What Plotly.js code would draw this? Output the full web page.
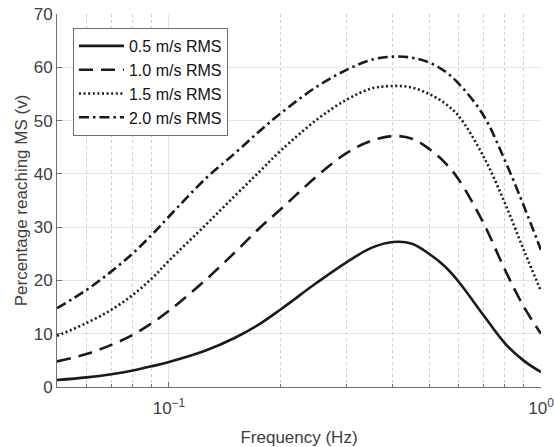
<!DOCTYPE html>
<html>
<head>
<meta charset="utf-8">
<script src="https://cdn.plot.ly/plotly-3.0.1.min.js"></script>
<style>
  html, body { margin: 0; padding: 0; background: #fff; }
  #chart { width: 554px; height: 447px; }
</style>
</head>
<body>
<div id="chart"></div>
<script>
const freq = [0.05, 0.06, 0.07, 0.08, 0.09, 0.1, 0.125, 0.15, 0.175, 0.2, 0.25, 0.3, 0.35, 0.4, 0.45, 0.5, 0.55, 0.6, 0.7, 0.8, 0.9, 1.0];
const msi05 = [1.3, 1.8, 2.4, 3.1, 3.9, 4.7, 6.8, 9.2, 11.8, 14.6, 19.6, 23.4, 26.1, 27.2, 26.9, 25.0, 22.7, 19.8, 13.5, 8.2, 4.9, 2.8];
const msi10 = [4.8, 6.2, 7.9, 9.8, 12.0, 14.3, 20.0, 25.2, 29.8, 33.4, 39.6, 43.9, 46.2, 47.1, 46.6, 44.7, 42.2, 39.0, 30.8, 22.0, 15.0, 10.0];
const msi15 = [9.6, 12.0, 14.5, 17.3, 20.4, 23.7, 30.3, 35.8, 40.4, 44.4, 50.2, 53.9, 56.0, 56.5, 56.2, 55.0, 53.3, 50.9, 43.3, 34.5, 25.6, 18.0];
const msi20 = [14.8, 18.2, 21.7, 25.1, 28.6, 32.0, 39.0, 43.8, 48.0, 51.4, 56.4, 59.5, 61.4, 62.0, 61.8, 60.9, 59.3, 57.0, 51.0, 42.5, 33.9, 25.7];
const seriesNames = ['0.5 m/s RMS', '1.0 m/s RMS', '1.5 m/s RMS', '2.0 m/s RMS'];
const xTickVals = [0.1, 1];
const xTickText = ['10<sup>\u22121</sup>', '10<sup>0</sup>'];
const xMinorVals = [0.06, 0.07, 0.08, 0.09, 0.2, 0.3, 0.4, 0.5, 0.6, 0.7, 0.8, 0.9];
const yTickVals = [0, 10, 20, 30, 40, 50, 60, 70];

const seriesData = [msi05, msi10, msi15, msi20];
const dashes = ['solid', '14px,8px', '2px,2.6px', '10px,4px,2.5px,4px'];

const traces = seriesData.map((ys, i) => ({
  x: freq,
  y: ys,
  type: 'scatter',
  mode: 'lines',
  name: seriesNames[i],
  line: { color: '#1a1a1a', width: 2.6, dash: dashes[i], shape: 'spline', smoothing: 1 }
}));

const fontFam = 'Liberation Sans, Arial, Helvetica, sans-serif';

const layout = {
  width: 554,
  height: 447,
  margin: { l: 57, r: 13, t: 14, b: 60 },
  paper_bgcolor: '#ffffff',
  plot_bgcolor: '#ffffff',
  font: { family: fontFam, size: 17, color: '#404040' },
  showlegend: true,
  legend: {
    x: 0.033, y: 0.9625, xanchor: 'left', yanchor: 'top',
    bgcolor: '#ffffff', bordercolor: '#6e6e6e', borderwidth: 1,
    font: { family: fontFam, size: 16, color: '#111111' },
    itemwidth: 45,
    tracegroupgap: 0
  },
  xaxis: {
    type: 'log',
    range: [Math.log10(0.05), 0],
    tickvals: xTickVals,
    ticktext: xTickText,
    ticks: 'inside',
    ticklen: 5,
    tickcolor: '#6e6e6e',
    ticklabelstandoff: 6,
    ticklabeloverflow: 'allow',
    showline: true,
    linecolor: '#6e6e6e',
    linewidth: 1,
    mirror: false,
    showgrid: true,
    gridcolor: '#e3e3e3',
    gridwidth: 1,
    zeroline: false,
    minor: {
      tickvals: xMinorVals,
      ticks: 'inside', ticklen: 3, tickcolor: '#6e6e6e',
      showgrid: true, gridcolor: '#cfcfcf', griddash: 'dot', gridwidth: 1
    },
    tickfont: { family: fontFam, size: 17, color: '#404040' },
    title: { text: 'Frequency (Hz)', font: { family: fontFam, size: 17, color: '#404040' }, standoff: 14 },
    automargin: false
  },
  yaxis: {
    range: [0, 70],
    tickvals: yTickVals,
    ticks: 'inside',
    ticklen: 5,
    tickcolor: '#6e6e6e',
    showline: true,
    linecolor: '#6e6e6e',
    linewidth: 1,
    showgrid: true,
    gridcolor: '#e3e3e3',
    gridwidth: 1,
    zeroline: false,
    tickfont: { family: fontFam, size: 17, color: '#404040' },
    title: { text: 'Percentage reaching MS (v)', font: { family: fontFam, size: 17, color: '#404040' }, standoff: 1 },
    automargin: false
  }
};

Plotly.newPlot('chart', traces, layout, { staticPlot: true, displayModeBar: false });
</script>
</body>
</html>
